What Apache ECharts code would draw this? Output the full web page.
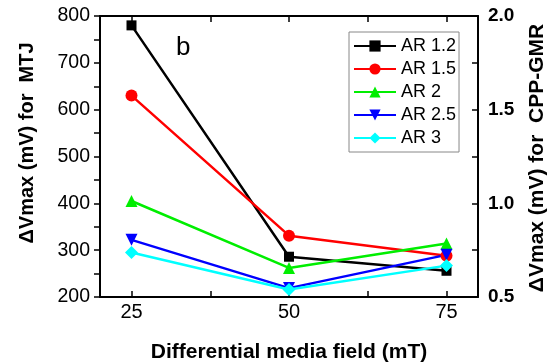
<!DOCTYPE html>
<html>
<head>
<meta charset="utf-8">
<script src="https://cdn.jsdelivr.net/npm/echarts@6/dist/echarts.min.js"></script>
<style>
  html, body { margin: 0; padding: 0; background: #fff; }
  #chart { width: 556px; height: 363px; }
</style>
</head>
<body>
<div id="chart"></div>
<script>
  const fields = [25, 50, 75];
  const seriesNames = ["AR 1.2", "AR 1.5", "AR 2", "AR 2.5", "AR 3"];
  const ar12 = [780, 286, 256];
  const ar15 = [630, 331, 288];
  const ar2 = [405, 262, 314];
  const ar25 = [322, 219, 290];
  const ar3 = [295, 216, 267];
  const leftTicks = [200, 800, 100];
  const rightTicks = [0.5, 2.0, 0.5];

  const colors = ["#000000", "#ff0000", "#00ee00", "#0000ff", "#00ffff"];
  const symbols = ["rect", "circle", "triangle", "triangle", "diamond"];
  const rotations = [0, 0, 0, 180, 0];
  const sizes = [10, 12, 12, 12, 13];
  const values = [ar12, ar15, ar2, ar25, ar3];

  const chart = echarts.init(document.getElementById("chart"));
  const font = "Liberation Sans, Arial, sans-serif";
  const tickStyle = { color: "#000", width: 1.5 };
  const xTickValues = [25, 37.5, 50, 62.5, 75];

  function titleText(text, x, y, size, rotate) {
    return {
      type: "text",
      x: x,
      y: y,
      rotation: rotate ? Math.PI / 2 : 0,
      style: {
        text: text,
        fontFamily: font,
        fontSize: size,
        fontWeight: "bold",
        fill: "#000",
        align: "center",
        verticalAlign: "middle"
      }
    };
  }

  chart.setOption({
    animation: false,
    grid: { left: 100, right: 78, top: 16, bottom: 66 },
    legend: {
      orient: "vertical",
      left: 349,
      top: 32,
      padding: [5, 3, 5, 4],
      itemGap: 5,
      itemWidth: 42,
      itemHeight: 14,
      borderColor: "#888",
      borderWidth: 1,
      textStyle: { fontFamily: font, fontSize: 18, color: "#000" },
      data: seriesNames
    },
    graphic: [
      {
        type: "text",
        left: 176,
        top: 35,
        style: { text: "b", fontFamily: font, fontSize: 26, fill: "#000" }
      },
      titleText("\u0394Vmax (mV) for  MTJ", 27, 143, 20, true),
      titleText("\u0394Vmax (mV) for  CPP-GMR", 537, 158, 21, true),
      titleText("Differential media field (mT)", 289, 352, 21, false)
    ],
    xAxis: [{
      type: "value",
      min: 20,
      max: 80,
      interval: 2.5,
      axisLine: { lineStyle: { color: "#000", width: 2 } },
      axisTick: { inside: true, length: 6, lineStyle: tickStyle, customValues: xTickValues },
      axisLabel: { fontFamily: font, fontSize: 20, color: "#000", margin: 5, customValues: fields },
      splitLine: { show: false }
    }, {
      type: "value",
      position: "top",
      min: 20,
      max: 80,
      interval: 2.5,
      axisLine: { lineStyle: { color: "#000", width: 2 } },
      axisTick: { inside: true, length: 6, lineStyle: tickStyle, customValues: xTickValues },
      axisLabel: { show: false },
      splitLine: { show: false }
    }],
    yAxis: [{
      type: "value",
      min: leftTicks[0],
      max: leftTicks[1],
      interval: leftTicks[2],
      axisLine: { show: true, lineStyle: { color: "#000", width: 2 } },
      axisTick: { show: true, length: 6, lineStyle: tickStyle },
      minorTick: { show: true, splitNumber: 2, length: 6, lineStyle: tickStyle },
      axisLabel: { fontFamily: font, fontSize: 19.5, color: "#000", margin: 10 },
      splitLine: { show: false }
    }, {
      type: "value",
      position: "right",
      min: rightTicks[0],
      max: rightTicks[1],
      interval: rightTicks[2],
      axisLine: { show: true, lineStyle: { color: "#000", width: 2 } },
      axisTick: { show: true, inside: true, length: 6, lineStyle: tickStyle },
      minorTick: { show: true, splitNumber: 2, length: 6, lineStyle: tickStyle },
      axisLabel: {
        fontFamily: font, fontSize: 19, fontWeight: "bold", color: "#000", margin: 10,
        formatter: (v) => v.toFixed(1)
      },
      splitLine: { show: false }
    }],
    series: seriesNames.map((name, i) => ({
      name: name,
      type: "line",
      xAxisIndex: 0,
      yAxisIndex: 0,
      symbol: symbols[i],
      symbolRotate: rotations[i],
      symbolSize: sizes[i],
      showAllSymbol: true,
      lineStyle: { color: colors[i], width: 2.5 },
      itemStyle: { color: colors[i] },
      data: fields.map((f, j) => [f, values[i][j]])
    }))
  });
</script>
</body>
</html>
